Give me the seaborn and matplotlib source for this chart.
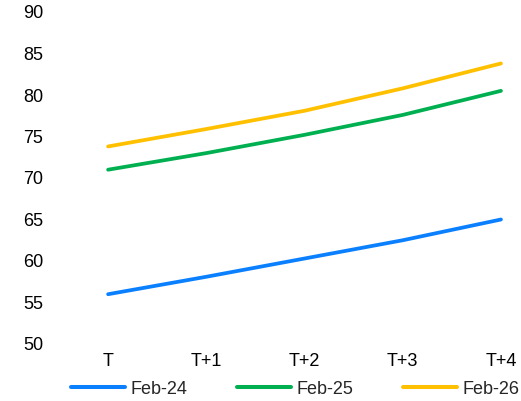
import matplotlib
matplotlib.use("Agg")
import matplotlib.pyplot as plt
import seaborn as sns
import pandas as pd

categories = ["T", "T+1", "T+2", "T+3", "T+4"]
feb24 = [56.0, 58.1, 60.3, 62.5, 65.0]
feb25 = [71.0, 73.0, 75.2, 77.6, 80.5]
feb26 = [73.8, 75.9, 78.1, 80.8, 83.8]
series_names = ["Feb-24", "Feb-25", "Feb-26"]
colors = ["#0A80FF", "#00B050", "#FFC000"]

rows = []
for name, vals in zip(series_names, [feb24, feb25, feb26]):
    for i, (c, v) in enumerate(zip(categories, vals)):
        rows.append({"x": i, "cat": c, "value": v, "series": name})
df = pd.DataFrame(rows)

sns.set_theme(style="white")
plt.rcParams["font.family"] = ["Liberation Sans", "DejaVu Sans"]

fig = plt.figure(figsize=(5.21, 4.01), dpi=100)
ax_left = 59 / 521
ax_right = 520.6 / 521
ax_bottom = (401 - 344) / 401
ax_top = 1 - 12 / 401
ax = fig.add_axes([ax_left, ax_bottom, ax_right - ax_left, ax_top - ax_bottom])

sns.lineplot(data=df, x="x", y="value", hue="series", palette=colors,
             linewidth=2.7, ax=ax, legend=True)

ax.set_xlim(-0.5, 4.2)
ax.set_ylim(50, 90)
ax.set_yticks(range(50, 91, 5))
ax.set_xticks(range(len(categories)))
ax.set_xticklabels(categories)
ax.set_xlabel("")
ax.set_ylabel("")
for s in ax.spines.values():
    s.set_visible(False)
ax.tick_params(axis="y", length=0, pad=11.5, labelsize=13, labelcolor="#000000")
ax.tick_params(axis="x", length=0, pad=6.5, labelsize=13, labelcolor="#000000")
ax.grid(False)

handles, labels = ax.get_legend_handles_labels()
ax.legend(handles, labels, loc="center", bbox_to_anchor=(295 / 521, 1 - 389 / 401),
          bbox_transform=fig.transFigure, ncol=3, frameon=False, fontsize=13,
          handlelength=3.0, handletextpad=0.28, columnspacing=2.77,
          borderaxespad=0, borderpad=0)
for line in ax.get_legend().get_lines():
    line.set_linewidth(2.9)

fig.savefig("out.png", dpi=100)
